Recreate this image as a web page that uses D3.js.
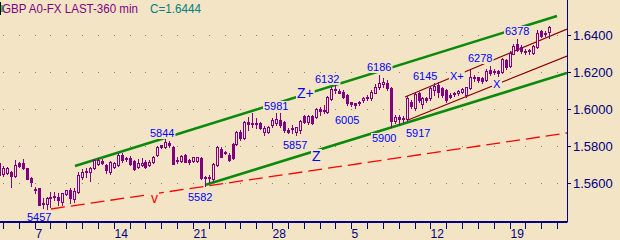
<!DOCTYPE html>
<html>
<head>
<meta charset="utf-8">
<script src="https://cdn.jsdelivr.net/npm/d3@7"></script>
<style>
  html, body { margin: 0; padding: 0; background: #f3e4c5; }
  svg { display: block; font-family: "Liberation Sans", Arial, sans-serif; }
</style>
</head>
<body>
<svg id="chart"></svg>
<script>
// GBP 360-minute bars, 4 bars per trading day, first bar sits a quarter day before day 0
const open = [
  1.5706,1.5647,1.5652,1.5661,1.5640,1.5706,1.5710,1.5679,1.5629,1.5566,
  1.5571,1.5490,1.5485,1.5526,1.5530,1.5526,1.5499,1.5539,1.5562,1.5512,
  1.5553,1.5630,1.5661,1.5659,1.5679,1.5703,1.5719,1.5697,1.5661,1.5685,
  1.5697,1.5751,1.5733,1.5737,1.5721,1.5685,1.5697,1.5715,1.5697,1.5715,
  1.5751,1.5805,1.5796,1.5815,1.5796,1.5721,1.5721,1.5751,1.5724,1.5721,
  1.5721,1.5734,1.5630,1.5628,1.5620,1.5698,1.5784,1.5770,1.5752,1.5811,
  1.5811,1.5878,1.5842,1.5928,1.5917,1.5926,1.5923,1.5878,1.5878,1.5914,
  1.5926,1.5941,1.5928,1.5887,1.5896,1.5878,1.5887,1.5964,1.5928,1.5964,
  1.5959,1.5998,1.5995,1.5986,1.6056,1.6107,1.6099,1.6094,1.6076,1.6036,
  1.6031,1.6035,1.6049,1.6058,1.6058,1.6089,1.6117,1.6135,1.6139,1.6112,
  1.5935,1.5955,1.5945,1.5945,1.6040,1.6004,1.6085,1.6027,1.6058,1.6058,
  1.6103,1.6130,1.6112,1.6103,1.6076,1.6081,1.6085,1.6094,1.6076,1.6112,
  1.6175,1.6171,1.6166,1.6157,1.6211,1.6202,1.6207,1.6200,1.6265,1.6230,
  1.6300,1.6350,1.6335,1.6315,1.6312,1.6305,1.6335,1.6420,1.6405,1.6415
];
const high = [
  1.5715,1.5690,1.5685,1.5665,1.5724,1.5714,1.5728,1.5682,1.5630,1.5580,
  1.5575,1.5517,1.5525,1.5553,1.5553,1.5544,1.5548,1.5562,1.5571,1.5575,
  1.5661,1.5674,1.5679,1.5688,1.5728,1.5733,1.5730,1.5705,1.5720,1.5712,
  1.5760,1.5760,1.5742,1.5745,1.5724,1.5730,1.5733,1.5724,1.5724,1.5745,
  1.5800,1.5807,1.5844,1.5825,1.5800,1.5742,1.5750,1.5755,1.5730,1.5742,
  1.5742,1.5740,1.5640,1.5645,1.5708,1.5800,1.5795,1.5775,1.5760,1.5815,
  1.5882,1.5885,1.5935,1.5959,1.5981,1.5950,1.5930,1.5908,1.5910,1.5950,
  1.5977,1.5977,1.5935,1.5895,1.5914,1.5905,1.5940,1.5970,1.5968,1.5970,
  1.6005,1.6013,1.6022,1.6070,1.6121,1.6132,1.6110,1.6100,1.6080,1.6040,
  1.6035,1.6045,1.6065,1.6075,1.6100,1.6135,1.6186,1.6166,1.6155,1.6120,
  1.5965,1.5970,1.5960,1.6070,1.6049,1.6085,1.6094,1.6067,1.6067,1.6121,
  1.6143,1.6148,1.6121,1.6107,1.6085,1.6094,1.6103,1.6112,1.6121,1.6211,
  1.6184,1.6175,1.6171,1.6215,1.6233,1.6215,1.6211,1.6278,1.6272,1.6312,
  1.6350,1.6378,1.6345,1.6325,1.6325,1.6345,1.6425,1.6425,1.6420,1.6450
];
const low = [
  1.5640,1.5640,1.5648,1.5580,1.5635,1.5688,1.5674,1.5620,1.5584,1.5544,
  1.5479,1.5467,1.5457,1.5472,1.5508,1.5481,1.5481,1.5535,1.5490,1.5499,
  1.5548,1.5620,1.5634,1.5612,1.5676,1.5698,1.5700,1.5656,1.5650,1.5680,
  1.5694,1.5715,1.5720,1.5697,1.5670,1.5680,1.5690,1.5680,1.5692,1.5706,
  1.5748,1.5790,1.5790,1.5795,1.5700,1.5706,1.5715,1.5712,1.5700,1.5715,
  1.5712,1.5620,1.5582,1.5605,1.5612,1.5694,1.5738,1.5755,1.5720,1.5728,
  1.5805,1.5835,1.5838,1.5887,1.5905,1.5896,1.5890,1.5860,1.5870,1.5905,
  1.5914,1.5905,1.5878,1.5870,1.5869,1.5857,1.5870,1.5925,1.5920,1.5920,
  1.5950,1.5968,1.5977,1.5980,1.6050,1.6089,1.6085,1.6060,1.6020,1.6015,
  1.6005,1.6020,1.6040,1.6050,1.6050,1.6085,1.6110,1.6120,1.6100,1.5900,
  1.5925,1.5917,1.5930,1.5935,1.6004,1.5995,1.6040,1.6004,1.6040,1.6049,
  1.6076,1.6067,1.6067,1.6040,1.6058,1.6070,1.6076,1.6085,1.6067,1.6107,
  1.6153,1.6148,1.6143,1.6150,1.6184,1.6190,1.6180,1.6193,1.6215,1.6225,
  1.6295,1.6315,1.6305,1.6300,1.6298,1.6300,1.6330,1.6390,1.6395,1.6385
];
const close = [
  1.5643,1.5679,1.5679,1.5638,1.5697,1.5692,1.5679,1.5622,1.5607,1.5562,
  1.5481,1.5487,1.5521,1.5523,1.5532,1.5508,1.5544,1.5562,1.5517,1.5559,
  1.5643,1.5661,1.5667,1.5681,1.5724,1.5724,1.5710,1.5670,1.5715,1.5706,
  1.5751,1.5724,1.5728,1.5701,1.5674,1.5710,1.5710,1.5688,1.5715,1.5742,
  1.5796,1.5796,1.5820,1.5805,1.5703,1.5724,1.5746,1.5715,1.5715,1.5739,
  1.5739,1.5626,1.5626,1.5632,1.5703,1.5793,1.5743,1.5761,1.5725,1.5734,
  1.5878,1.5842,1.5928,1.5917,1.5926,1.5917,1.5896,1.5896,1.5905,1.5941,
  1.5944,1.5914,1.5887,1.5878,1.5890,1.5901,1.5936,1.5932,1.5964,1.5927,
  1.6000,1.5991,1.5990,1.6067,1.6107,1.6103,1.6089,1.6067,1.6031,1.6027,
  1.6024,1.6040,1.6058,1.6067,1.6094,1.6121,1.6139,1.6146,1.6112,1.5935,
  1.5955,1.5945,1.5950,1.6060,1.6015,1.6080,1.6049,1.6058,1.6049,1.6112,
  1.6125,1.6094,1.6076,1.6049,1.6067,1.6089,1.6099,1.6107,1.6117,1.6175,
  1.6166,1.6157,1.6153,1.6207,1.6197,1.6207,1.6197,1.6270,1.6225,1.6305,
  1.6340,1.6320,1.6315,1.6310,1.6318,1.6340,1.6410,1.6395,1.6410,1.6444
];
const firstBarDay = -0.25;
const barsPerDay = 4;

// axis ticks: one per trading day, dates on the Mondays
const dayTicks = d3.range(0, 36);
const labelDays = [2, 7, 12, 17, 22, 27, 32];
const labelText = ["7", "14", "21", "28", "5", "12", "19"];
const priceTicks = [1.56, 1.58, 1.60, 1.62, 1.64];

// trend lines as [day, price] end points
const greenLines = [
  [[4.535, 1.5692], [35.02, 1.6503]],
  [[12.76, 1.5589], [35.65, 1.6196]]
];
const redLine = [[3.06, 1.5458], [35.65, 1.5872]];
const maroonLines = [
  [[25.41, 1.6065], [35.65, 1.6432]],
  [[25.6, 1.5941], [35.65, 1.6286]]
];

// chart notes: text, day, price at the left end of the baseline
const noteText = ["5457", "5582", "5844", "5981", "5857", "6132", "6005", "6186", "5900",
                  "5917", "6145", "X+", "6278", "X", "6378", "Z+", "Z", "v"];
const noteDay = [1.50, 11.68, 9.28, 16.49, 17.69, 19.72, 20.98, 23.00, 23.32,
                 25.47, 25.91, 28.25, 29.39, 30.97, 31.73, 18.58, 19.52, 9.34];
const notePrice = [1.5392, 1.5505, 1.5849, 1.5995, 1.5784, 1.6141, 1.5919, 1.6205, 1.5822,
                   1.5849, 1.6157, 1.6157, 1.6254, 1.6114, 1.6400, 1.6059, 1.5719, 1.5492];

const W = 620, H = 240;
const plotRight = 567, plotBottom = 222;
const bg = "#f3e4c5", purple = "#800080", navy = "#000080";

const svg = d3.select("#chart").attr("width", W).attr("height", H);
svg.append("rect").attr("width", W).attr("height", H).attr("fill", bg);

svg.append("clipPath").attr("id", "plot")
  .append("rect").attr("width", plotRight).attr("height", plotBottom);

const x = d3.scaleLinear().domain([0, 35]).rangeRound([3, 557]);
const y = d3.scaleLinear().domain([1.56, 1.64]).rangeRound([183, 35]);

// dotted grid
const dots = [];
dayTicks.forEach(d => priceTicks.forEach(p => dots.push([d, p])));
svg.append("g").selectAll("rect").data(dots).join("rect")
  .attr("x", d => x(d[0])).attr("y", d => y(d[1]))
  .attr("width", 1).attr("height", 1).attr("fill", "#8a806c");

const plot = svg.append("g").attr("clip-path", "url(#plot)");
const line = d3.line().x(d => x(d[0])).y(d => y(d[1]));

plot.append("path").attr("d", line(redLine)).attr("fill", "none")
  .attr("stroke", "#ff0000").attr("stroke-width", 1.3).attr("stroke-dasharray", "14,6");
plot.selectAll(".maroon").data(maroonLines).join("path").attr("class", "maroon")
  .attr("d", line).attr("fill", "none").attr("stroke", "#8b0000").attr("stroke-width", 1.2);
plot.selectAll(".green").data(greenLines).join("path").attr("class", "green")
  .attr("d", line).attr("fill", "none").attr("stroke", "#0a8a0a").attr("stroke-width", 2.6);

// candles
const bars = open.map((o, i) => ({
  day: firstBarDay + i / barsPerDay, o: o, h: high[i], l: low[i], c: close[i]
}));
const candle = plot.selectAll(".bar").data(bars).join("g").attr("class", "bar");
candle.append("rect")
  .attr("x", d => x(d.day)).attr("y", d => y(d.h))
  .attr("width", 1).attr("height", d => y(d.l) - y(d.h) + 1)
  .attr("fill", purple);
candle.each(function(d) {
  const g = d3.select(this);
  const cx = x(d.day);
  const top = y(Math.max(d.o, d.c)), bot = y(Math.min(d.o, d.c));
  if (d.c > d.o && bot - top >= 2) {
    g.append("rect").attr("x", cx - 0.5).attr("y", top + 0.5)
      .attr("width", 2).attr("height", bot - top)
      .attr("fill", bg).attr("stroke", purple).attr("stroke-width", 1);
  } else {
    g.append("rect").attr("x", cx - 1).attr("y", top)
      .attr("width", 3).attr("height", Math.max(bot - top, 1) + 1)
      .attr("fill", purple);
  }
});

// notes with a background box that hides the lines behind them
const notes = svg.append("g").selectAll("g").data(noteText).join("g");
notes.append("text")
  .attr("x", (d, i) => x(noteDay[i])).attr("y", (d, i) => y(notePrice[i]))
  .attr("font-size", d => d[0] === "Z" ? 14 : d === "v" ? 14 : 11)
  .attr("fill", d => d === "v" ? "#ff0000" : "#0000ff")
  .text(d => d);
notes.each(function() {
  const t = d3.select(this).select("text");
  const b = t.node().getBBox();
  d3.select(this).insert("rect", "text")
    .attr("x", b.x - 1).attr("y", b.y + 1)
    .attr("width", b.width + 2).attr("height", b.height - 1)
    .attr("fill", bg);
});

// axes
const axisY = svg.append("g").attr("transform", `translate(${plotRight},0)`)
  .call(d3.axisRight(y).tickValues(priceTicks).tickFormat(d3.format(".4f"))
    .tickSize(4).tickPadding(2));
axisY.select(".domain").remove();
axisY.selectAll("line").attr("stroke", navy);
axisY.selectAll("text").attr("fill", navy).attr("font-size", 13)
  .attr("font-family", "Liberation Sans, Arial, sans-serif");

const axisX = svg.append("g").attr("transform", `translate(0,${plotBottom})`)
  .call(d3.axisBottom(x).tickValues(dayTicks).tickSize(7).tickPadding(0)
    .tickFormat(d => { const k = labelDays.indexOf(d); return k < 0 ? "" : labelText[k]; }));
axisX.select(".domain").remove();
axisX.selectAll("line").attr("stroke", navy);
axisX.selectAll("text").attr("fill", navy).attr("font-size", 12)
  .attr("text-anchor", "start").attr("dx", 0)
  .attr("font-family", "Liberation Sans, Arial, sans-serif");

svg.append("line").attr("x1", 0).attr("x2", plotRight + 0.5)
  .attr("y1", plotBottom).attr("y2", plotBottom)
  .attr("stroke", navy).attr("stroke-width", 2);
svg.append("line").attr("x1", plotRight + 0.5).attr("x2", plotRight + 0.5)
  .attr("y1", 0).attr("y2", plotBottom)
  .attr("stroke", navy).attr("stroke-width", 1);

// title
svg.append("rect").attr("x", 0).attr("y", 2).attr("width", 1).attr("height", 13).attr("fill", "#000");
svg.append("rect").attr("x", 1).attr("y", 5).attr("width", 2).attr("height", 7).attr("fill", "#33cc33");
svg.append("text").attr("x", 2).attr("y", 13).attr("font-size", 13)
  .attr("textLength", 136).attr("lengthAdjust", "spacingAndGlyphs")
  .attr("fill", purple).text("GBP A0-FX LAST-360 min");
svg.append("text").attr("x", 150).attr("y", 13).attr("font-size", 13)
  .attr("textLength", 51).attr("lengthAdjust", "spacingAndGlyphs")
  .attr("fill", "#008080").text("C=" + d3.format(".4f")(close[close.length - 1]));
</script>
</body>
</html>
